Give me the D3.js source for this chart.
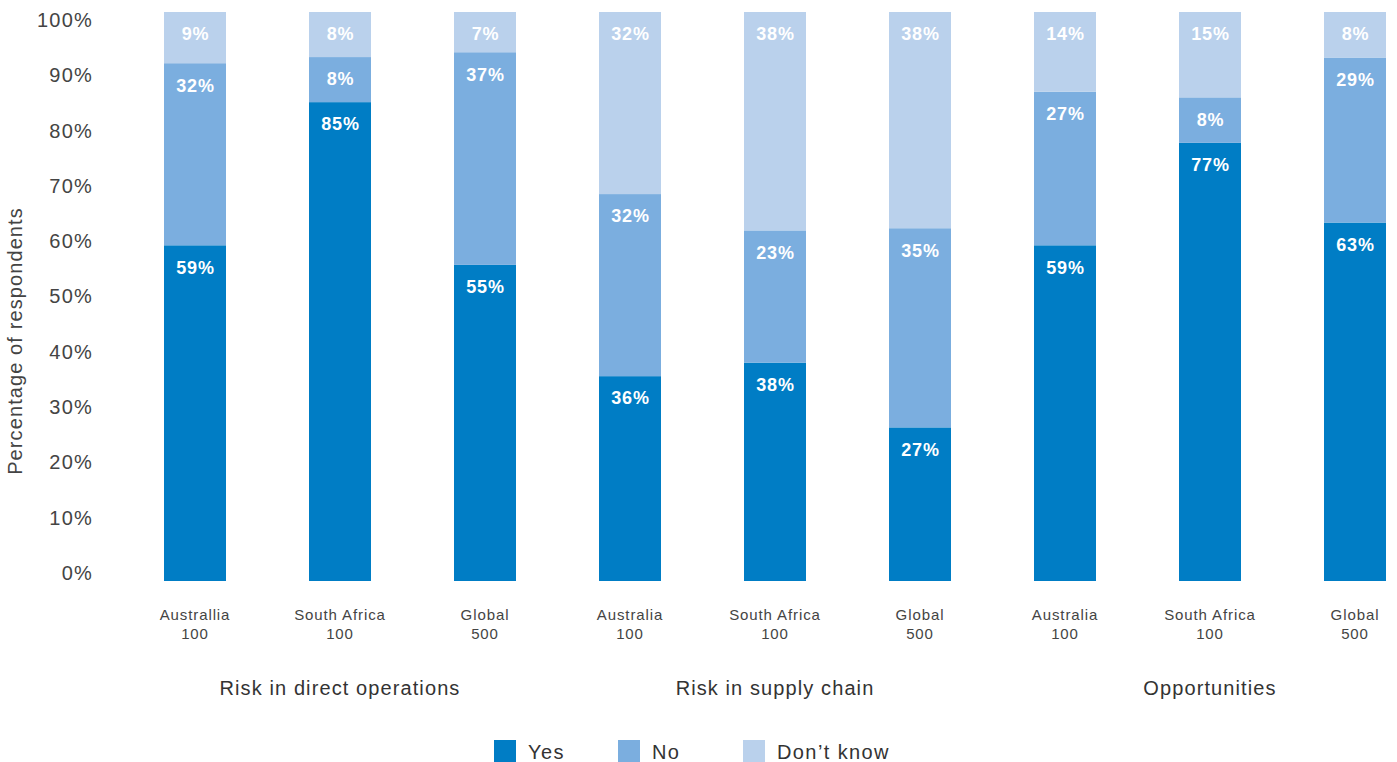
<!DOCTYPE html>
<html>
<head>
<meta charset="utf-8">
<script src="https://cdn.jsdelivr.net/npm/d3@7"></script>
<style>
  html, body { margin: 0; padding: 0; background: #fff; }
  svg { display: block; font-family: "Liberation Sans", Arial, sans-serif; }
</style>
</head>
<body>
<svg id="chart" width="1397" height="762"></svg>
<script>
// Survey answers per respondent group, in percent
const categories = ["Australlia", "South Africa", "Global",
                    "Australia", "South Africa", "Global",
                    "Australia", "South Africa", "Global"];
const sampleSizes = ["100", "100", "500", "100", "100", "500", "100", "100", "500"];
const groups = ["Risk in direct operations", "Risk in supply chain", "Opportunities"];
const series = ["Yes", "No", "Don\u2019t know"];
const yesValues = [59, 85, 55, 36, 38, 27, 59, 77, 63];
const noValues = [32, 8, 37, 32, 23, 35, 27, 8, 29];
const dontKnowValues = [9, 8, 7, 32, 38, 38, 14, 15, 8];
const yTicks = [0, 10, 20, 30, 40, 50, 60, 70, 80, 90, 100];
const colors = ["#007dc5", "#7baedf", "#bad1ec"];

const rows = categories.map((c, i) => ({
  idx: i,
  name: c,
  n: sampleSizes[i],
  "Yes": yesValues[i],
  "No": noValues[i],
  "Don\u2019t know": dontKnowValues[i]
}));

const svg = d3.select("#chart");

// band layout: step 145 px, bar width 62 px
const step = 145, barW = 62, x0 = 164;
const pInner = (step - barW) / step;
const x = d3.scaleBand()
  .domain(d3.range(categories.length))
  .range([x0 - (step - barW) / 2, x0 - (step - barW) / 2 + step * categories.length])
  .paddingInner(pInner)
  .paddingOuter(pInner / 2);

const y = d3.scaleLinear().domain([0, 1]).range([581, 12]);
const yLabel = d3.scaleLinear().domain([0, 100]).range([573, 20]);
const color = d3.scaleOrdinal().domain(series).range(colors);

// each bar is normalised to its own total
const stacked = d3.stack().keys(series).offset(d3.stackOffsetExpand)(rows);

const layer = svg.append("g").selectAll("g").data(stacked).join("g")
  .attr("fill", d => color(d.key));

layer.selectAll("rect").data(d => d).join("rect")
  .attr("x", d => x(d.data.idx))
  .attr("width", x.bandwidth())
  .attr("y", d => y(d[1]))
  .attr("height", d => y(d[0]) - y(d[1]));

// value labels near the top of each segment
svg.append("g").selectAll("g").data(stacked).join("g")
  .each(function(s) {
    d3.select(this).selectAll("text").data(s).join("text")
      .attr("x", d => x(d.data.idx) + x.bandwidth() / 2 + 0.5)
      .attr("y", d => y(d[1]) + 22)
      .attr("dy", "0.35em")
      .attr("text-anchor", "middle")
      .attr("fill", "#fff")
      .attr("font-weight", "bold")
      .attr("font-size", 18)
      .attr("letter-spacing", 0.8)
      .text(d => d.data[s.key] + "%");
  });

// y axis labels
const yAxis = d3.axisLeft(yLabel).tickValues(yTicks).tickFormat(d => d + "%").tickSize(0).tickPadding(0);
const gy = svg.append("g").attr("transform", "translate(93,0)").call(yAxis);
gy.select(".domain").remove();
gy.selectAll("text").attr("font-size", 20).attr("fill", "#444")
  .attr("letter-spacing", 1.2)
  .attr("font-family", "'Liberation Sans', Arial, sans-serif");

svg.append("text")
  .attr("transform", "translate(22,341) rotate(-90)")
  .attr("text-anchor", "middle")
  .attr("font-size", 20)
  .attr("letter-spacing", 1.1)
  .attr("fill", "#444")
  .text("Percentage of respondents");

// category labels (two lines)
const xl = svg.append("g").selectAll("text").data(rows).join("text")
  .attr("text-anchor", "middle")
  .attr("font-size", 15)
  .attr("letter-spacing", 0.9)
  .attr("fill", "#444");
xl.append("tspan").attr("x", d => x(d.idx) + x.bandwidth() / 2).attr("y", 620).text(d => d.name);
xl.append("tspan").attr("x", d => x(d.idx) + x.bandwidth() / 2).attr("y", 639).text(d => d.n);

// group labels centred under the middle bar of each group
svg.append("g").selectAll("text").data(groups).join("text")
  .attr("x", (d, i) => x(i * 3 + 1) + x.bandwidth() / 2)
  .attr("y", 695)
  .attr("text-anchor", "middle")
  .attr("font-size", 20)
  .attr("letter-spacing", 1.1)
  .attr("fill", "#333")
  .text(d => d);

// legend
const legendX = [494, 618, 743];
const lg = svg.append("g").selectAll("g").data(series).join("g")
  .attr("transform", (d, i) => `translate(${legendX[i]},740)`);
lg.append("rect").attr("width", 22).attr("height", 22).attr("fill", d => color(d));
lg.append("text").attr("x", 34).attr("y", 19).attr("font-size", 20)
  .attr("letter-spacing", 1.4).attr("fill", "#333").text(d => d);
</script>
</body>
</html>
